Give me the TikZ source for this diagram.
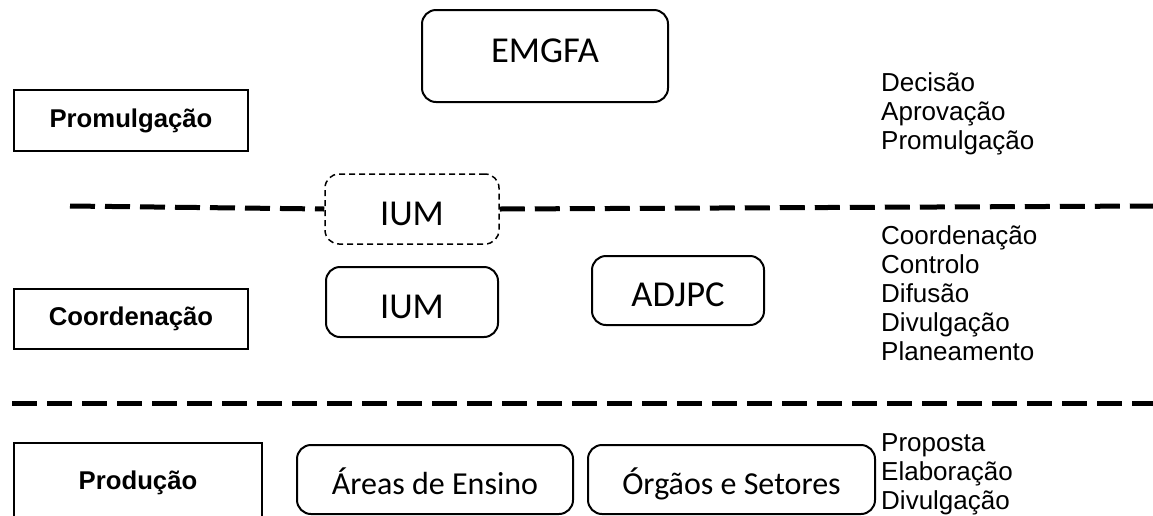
\documentclass[tikz,border=0pt]{standalone}
\usepackage{fontspec}
\setmainfont{Liberation Sans}
\newfontfamily\calfont{Carlito}
\usetikzlibrary{positioning}

\tikzset{
  levelbox/.style={draw, line width=2.5pt, minimum width=234pt, minimum height=60pt,
    font=\fontsize{25.7}{30}\selectfont\bfseries},
  unitbox/.style={draw, line width=2pt, rounded corners=14pt, minimum height=69pt,
    text height=32.5pt, text depth=0pt, font=\calfont\fontsize{36.5}{40}\selectfont},
  smallunit/.style={unitbox, text height=30pt, font=\calfont\fontsize{32}{36}\selectfont},
  tasklist/.style={anchor=west, align=left, inner sep=0pt,
    font=\fontsize{26}{29}\selectfont},
  sepline/.style={line width=5pt, dash pattern=on 25pt off 10pt},
}

\begin{document}
\begin{tikzpicture}[x=1pt, y=-1pt]
  \clip (0,0) rectangle (1153,515);

  % levels
  \node[levelbox, minimum height=61pt] (promul) at (131,120.5) {Promulgação};
  \node[levelbox] (coord) at (131,319) {Coordenação};
  \node[levelbox, minimum width=248pt, minimum height=80pt] (prod) at (138,483) {Produção};

  % units
  \node[unitbox, minimum width=246pt, minimum height=92pt, text height=18pt, text depth=5.5pt]
    (emgfa) at (545,56) {EMGFA};
  \node[unitbox, minimum width=174pt, minimum height=70pt, line width=1.5pt,
    dash pattern=on 6pt off 4pt] (iumtop) at (412,209) {IUM};
  \node[unitbox, minimum width=172pt, minimum height=70pt] (ium) at (412,302) {IUM};
  \node[unitbox, minimum width=172pt] (adjpc) at (678,290.5) {ADJPC};
  \node[smallunit, minimum width=276pt] (areas) at (435,479.5) {Áreas de Ensino};
  \node[smallunit, minimum width=287pt] (orgaos) at (731.5,479.5) {Órgãos e Setores};

  % tasks
  \node[tasklist] (t1) at (881,114) {Decisão\\Aprovação\\Promulgação};
  \node[tasklist] (t2) at (881,293) {Coordenação\\Controlo\\Difusão\\Divulgação\\Planeamento};
  \node[tasklist] (t3) at (881,474) {Proposta\\Elaboração\\Divulgação};

  % separators
  \coordinate (s1a) at (70,206);
  \coordinate (s1b) at (1153,206);
  \coordinate (s2a) at (12,403);
  \coordinate (s2b) at (1153,403);
  \draw[sepline] (s1a) -- (iumtop.west);
  \draw[sepline] (iumtop.east) -- (s1b);
  \draw[sepline] (s2a) -- (s2b);
\end{tikzpicture}
\end{document}
